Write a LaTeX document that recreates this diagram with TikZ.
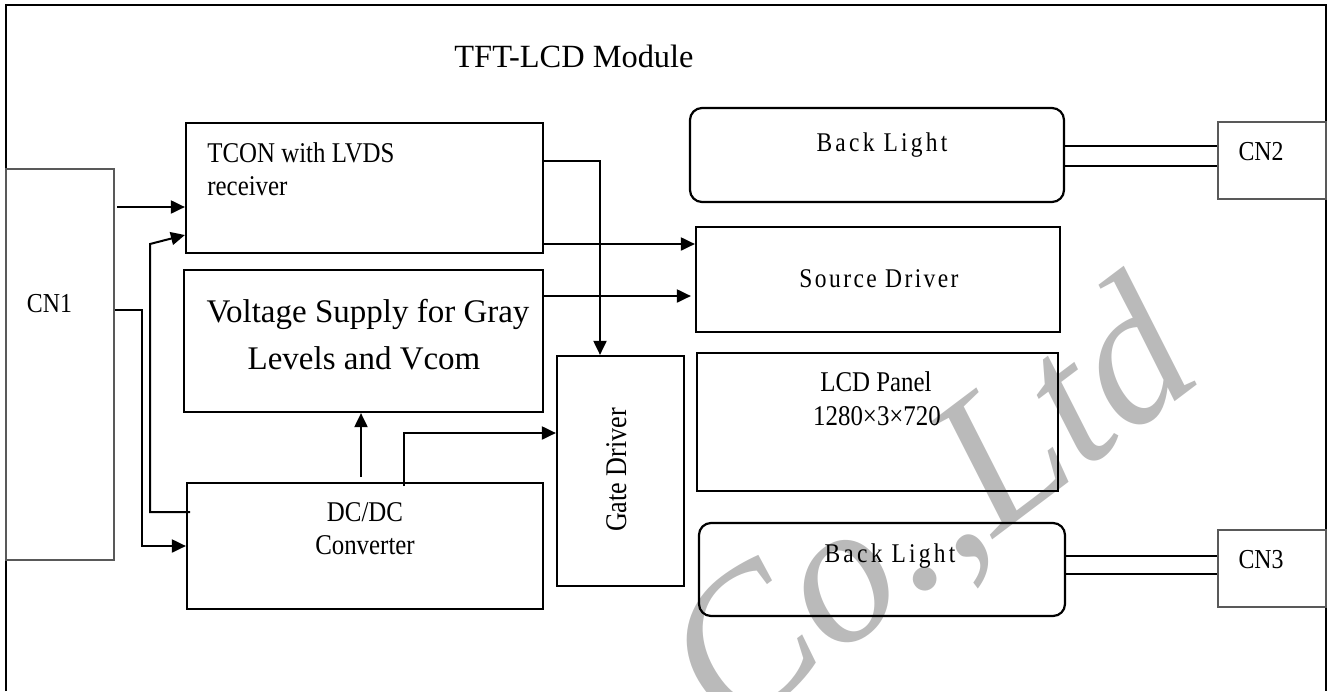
\documentclass[tikz,border=0pt]{standalone}
\usepackage{fontspec}
\setmainfont{Liberation Serif}
\newfontfamily\nar[FakeStretch=0.87]{Liberation Serif}
\newfontfamily\spc[FakeStretch=0.87,LetterSpace=12]{Liberation Serif}
\usetikzlibrary{arrows.meta}
\begin{document}
\begin{tikzpicture}[x=0.5pt,y=-0.5pt,
  box/.style={draw=black,line width=1.1pt,inner sep=0pt,rectangle},
  rbox/.style={box,rounded corners=6pt},
  cbox/.style={draw=black!65,line width=1.1pt,inner sep=0pt,rectangle},
  arr/.style={line width=1pt,-{Triangle[length=7pt,width=6.5pt]}},
  wire/.style={line width=1pt},
  lbl/.style={anchor=base,inner sep=0pt},
  narf/.style={font=\nar\fontsize{14.3}{16}\selectfont},
  spcf/.style={font=\spc\fontsize{13.5}{16}\selectfont}]
\useasboundingbox (0,0) rectangle (1332,691);
% watermark
\node[rotate=37,text=black!27,font=\itshape\fontsize{100}{100}\selectfont,inner sep=0pt] (wm) at (935,515) {Co.,Ltd};
% frame
\draw[line width=1.4pt] (6,691) -- (6,5) -- (1326,5) -- (1326,691);
\node[lbl,font=\fontsize{16.2}{18}\selectfont] (title) at (574,67) {TFT-LCD Module};
% boxes
\node[cbox,minimum width=54pt,minimum height=195.5pt] (CN1) at (60,364.5) {};
\node[box,minimum width=178.5pt,minimum height=65pt] (TCON) at (364.5,188) {};
\node[box,minimum width=179.5pt,minimum height=71pt] (Volt) at (363.5,341) {};
\node[box,minimum width=178pt,minimum height=63pt] (DCDC) at (365,546) {};
\node[box,minimum width=63.5pt,minimum height=115pt] (Gate) at (620.5,471) {};
\node[rbox,minimum width=187pt,minimum height=47pt] (BL1) at (877,155) {};
\node[box,minimum width=182pt,minimum height=52.5pt] (Src) at (878,279.5) {};
\node[box,minimum width=180.5pt,minimum height=69pt] (LCD) at (877.5,422) {};
\node[rbox,minimum width=183pt,minimum height=46.5pt] (BL2) at (882,569.5) {};
\node[cbox,minimum width=54pt,minimum height=38.5pt] (CN2) at (1272,160.5) {};
\node[cbox,minimum width=54pt,minimum height=38.5pt] (CN3) at (1272,568.5) {};
% texts
\node[lbl,font=\nar\fontsize{13.7}{16}\selectfont] (tCN1) at (49.5,312) {CN1};
\node[lbl,font=\nar\fontsize{13.7}{16}\selectfont] (tCN2) at (1261,160) {CN2};
\node[lbl,font=\nar\fontsize{13.7}{16}\selectfont] (tCN3) at (1261,568) {CN3};
\node[lbl,narf,anchor=base west] (tT1) at (207,162) {TCON with LVDS};
\node[lbl,narf,anchor=base west] (tT2) at (207,195) {receiver};
\node[lbl,font=\fontsize{16.5}{18}\selectfont] (tV1) at (368,322) {Voltage Supply for Gray};
\node[lbl,font=\fontsize{16.5}{18}\selectfont] (tV2) at (364,369) {Levels and Vcom};
\node[lbl,narf] (tD1) at (365,521) {DC/DC};
\node[lbl,narf] (tD2) at (365,554) {Converter};
\node[lbl,rotate=90,font=\nar\fontsize{15}{16}\selectfont] (tG) at (626,470) {Gate Driver};
\node[lbl,spcf] (tB1) at (882,151) {Back Light};
\node[lbl,font=\spc\fontsize{13.5}{16}\selectfont\addfontfeatures{LetterSpace=9}] (tS) at (879,287) {Source Driver};
\node[lbl,narf] (tL1) at (876,391) {LCD Panel};
\node[lbl,narf] (tL2) at (877,425) {1280×3×720};
\node[lbl,spcf] (tB2) at (890,562) {Back Light};
% connectors
\coordinate (c1) at (117,207);
\draw[arr] (c1) -- (TCON.west |- c1);
\draw[arr] (CN1.east |- 0,310) -| (142,546) -- (DCDC.west |- 0,546);
\coordinate (c2) at (190,512);
\draw[arr] (c2) -- (150,512) -- (150,244) -- (TCON.west |- 0,235);
\coordinate (c3) at (361,477);
\draw[arr] (c3) -- (c3 |- Volt.south);
\coordinate (c4) at (404,486);
\draw[arr] (c4) |- (Gate.west |- 0,433);
\draw[arr] (TCON.east |- 0,161) -| (Gate.north -| 600,0);
\draw[arr] (TCON.east |- 0,244) -- (Src.west |- 0,244);
\draw[arr] (Volt.east |- 0,296) -- ([xshift=-2pt]Src.west |- 0,296);
\draw[wire] (BL1.east |- 0,146) -- (CN2.west |- 0,146);
\draw[wire] (BL1.east |- 0,166) -- (CN2.west |- 0,166);
\draw[wire] (BL2.east |- 0,556) -- (CN3.west |- 0,556);
\draw[wire] (BL2.east |- 0,574) -- (CN3.west |- 0,574);
\end{tikzpicture}
\end{document}
